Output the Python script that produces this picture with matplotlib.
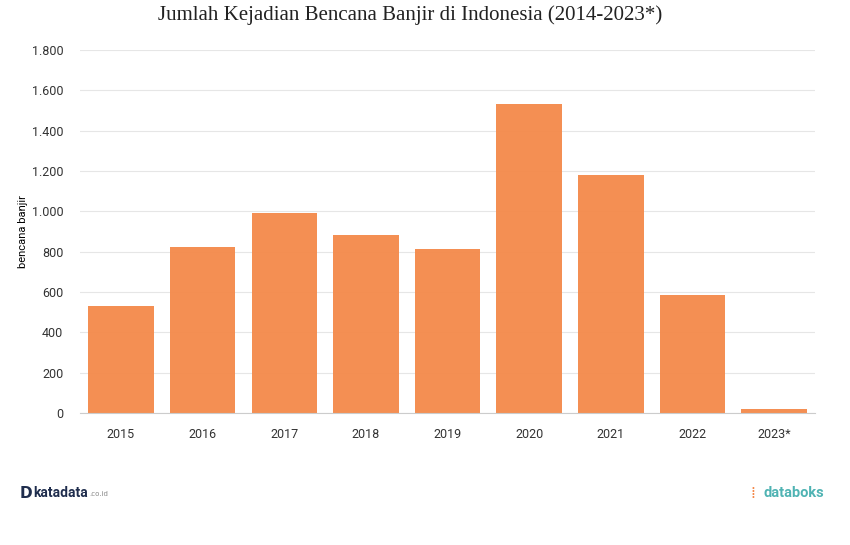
import matplotlib
matplotlib.use('Agg')
import matplotlib.pyplot as plt

years = ['2015', '2016', '2017', '2018', '2019', '2020', '2021', '2022', '2023*']
banjir = [530, 823, 992, 882, 813, 1532, 1180, 585, 20]
yticks = [0, 200, 400, 600, 800, 1000, 1200, 1400, 1600, 1800]
ylabels = ['0', '200', '400', '600', '800', '1.000', '1.200', '1.400', '1.600', '1.800']

fig = plt.figure(figsize=(8.5, 5.45), dpi=100)
ax = fig.add_axes([80/850, 1-413/545, 735/850, 363/545])

ax.bar(range(len(years)), banjir, width=0.8, color='#f4894a', alpha=0.95, zorder=2)
ax.set_xlim(-0.5, len(years) - 0.5)
ax.set_ylim(0, 1800)
ax.set_yticks(yticks)
ax.set_yticklabels(ylabels, fontsize=9, family='Roboto', color='#333333')
ax.set_xticks(range(len(years)))
ax.set_xticklabels(years, fontsize=9, family='Roboto', color='#333333')
ax.grid(axis='y', color='#e6e6e6', lw=0.8, zorder=0)
for s in ['top', 'right', 'left']:
    ax.spines[s].set_visible(False)
ax.spines['bottom'].set_color('#cccccc')
ax.tick_params(axis='y', length=0, pad=12)
ax.tick_params(axis='x', length=0, pad=11)
ax.set_ylabel('bencana banjir', fontsize=8, family='Roboto', labelpad=3)

fig.text(410/850, 1-15/545, 'Jumlah Kejadian Bencana Banjir di Indonesia (2014-2023*)',
         ha='center', va='center', fontsize=15, family='Liberation Serif', color='#222222')

# logos as text
fig.text(20/850, 1-493/545, 'D', fontsize=11, weight='bold', color='#1f2d4d', va='center')
fig.text(33/850, 1-493/545, 'katadata', fontsize=10, weight='bold', color='#1f2d4d', va='center', family='Roboto')
fig.text(89/850, 1-494/545, '.co.id', fontsize=5, color='#888888', va='center')
fig.text(750/850, 1-493/545, '⁞', fontsize=11, color='#f4894a', va='center')
fig.text(764/850, 1-493/545, 'databoks', fontsize=10.5, weight='bold', color='#4fb3b3', va='center', family='Roboto')

fig.savefig('out.png', dpi=100)
